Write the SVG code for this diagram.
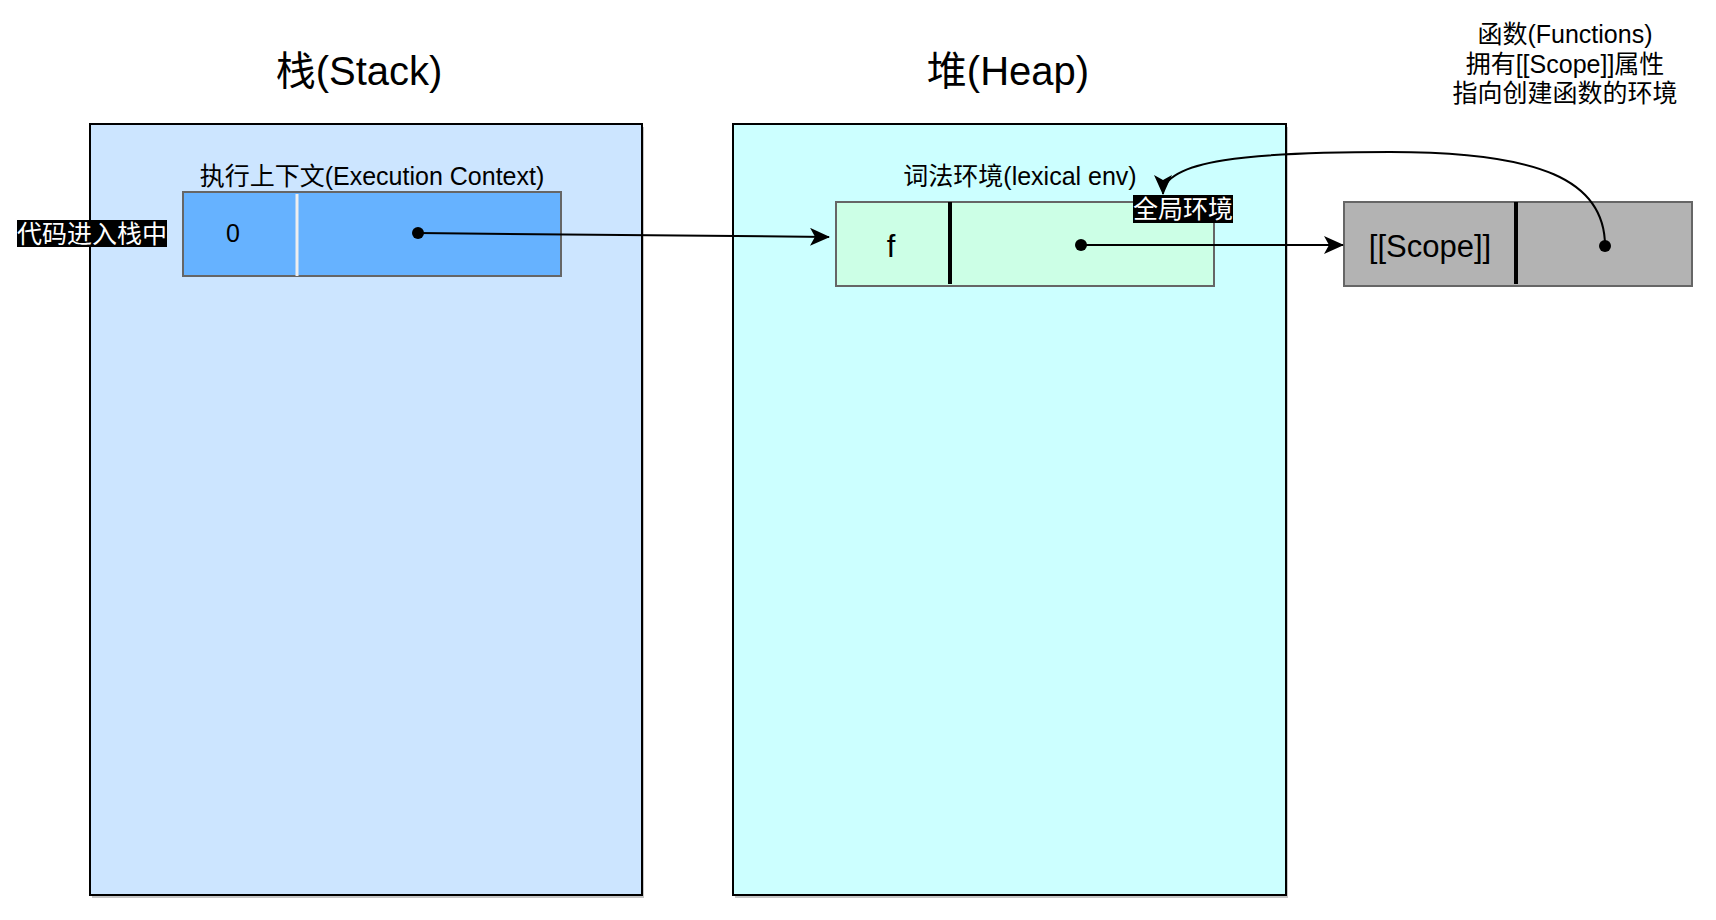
<svg xmlns="http://www.w3.org/2000/svg" width="1716" height="920" viewBox="0 0 1716 920">
<style>
text{font-family:"Liberation Sans","Noto Sans CJK SC",sans-serif;fill:#000}
.t40{font-size:40px;text-anchor:middle}
.t25{font-size:25px;text-anchor:middle}
.t31{font-size:31px;text-anchor:middle}
.w{fill:#fff}
.outer{stroke:#000;stroke-width:2}
.shadow{fill:#808080;opacity:.45}
.cell{stroke:#666;stroke-width:2}
.div{stroke:#000;stroke-width:4}
.conn{fill:none;stroke:#000;stroke-width:2}
</style>
<defs>
<marker id="arr" viewBox="0 0 20 18" refX="19" refY="9" markerWidth="20" markerHeight="18" markerUnits="userSpaceOnUse" orient="auto">
<path d="M0,0 L20,9 L0,18 L5,9 Z" fill="#000"/>
</marker>
</defs>
<rect width="1716" height="920" fill="#fff"/>

<g id="stack">
<rect class="shadow" x="92" y="127" width="552" height="771"/>
<rect class="outer" x="90" y="124" width="552" height="771" fill="#cce5ff"/>
<text class="t40" x="359" y="85">栈(Stack)</text>
</g>

<g id="heap">
<rect class="shadow" x="735" y="127" width="553" height="771"/>
<rect class="outer" x="733" y="124" width="553" height="771" fill="#ccffff"/>
<text class="t40" x="1008" y="85">堆(Heap)</text>
</g>

<g id="exec-context">
<text class="t25" x="372" y="185">执行上下文(Execution Context)</text>
<rect class="cell" x="183" y="192" width="378" height="84" fill="#66b2ff"/>
<line x1="297" y1="194" x2="297" y2="276" stroke="#eeeeee" stroke-width="3"/>
<text class="t25" x="233" y="242">0</text>
</g>

<g id="enter-label">
<rect x="17" y="220" width="150" height="27" fill="#000"/>
<text class="t25 w" x="92" y="243">代码进入栈中</text>
</g>

<g id="lexical-env">
<text class="t25" x="1020" y="185">词法环境(lexical env)</text>
<rect class="cell" x="836" y="202" width="378" height="84" fill="#ccffe6"/>
<line class="div" x1="950" y1="202" x2="950" y2="284"/>
<text class="t31" x="891" y="257">f</text>
</g>

<g id="scope">
<rect class="cell" x="1344" y="202" width="348" height="84" fill="#b3b3b3"/>
<line class="div" x1="1516" y1="202" x2="1516" y2="284"/>
<text class="t31" x="1430" y="257">[[Scope]]</text>
</g>

<g id="note">
<text class="t25" x="1565" y="43">函数(Functions)</text>
<text class="t25" x="1565" y="73">拥有[[Scope]]属性</text>
<text class="t25" x="1565" y="102">指向创建函数的环境</text>
</g>

<g id="connectors">
<path class="conn" d="M418,233 L829,237" marker-end="url(#arr)"/>
<circle cx="418" cy="233" r="6" fill="#000"/>
<path class="conn" d="M1081,245 L1343,245" marker-end="url(#arr)"/>
<circle cx="1081" cy="245" r="6" fill="#000"/>
<path class="conn" d="M1605,246 C1605,180 1540,152 1390,152 C1250,152 1163,160 1163,194" marker-end="url(#arr)"/>
<circle cx="1605" cy="246" r="6" fill="#000"/>
</g>

<g id="global-label">
<rect x="1133" y="195" width="100" height="28" fill="#000"/>
<text class="t25 w" x="1183" y="218">全局环境</text>
</g>
</svg>
